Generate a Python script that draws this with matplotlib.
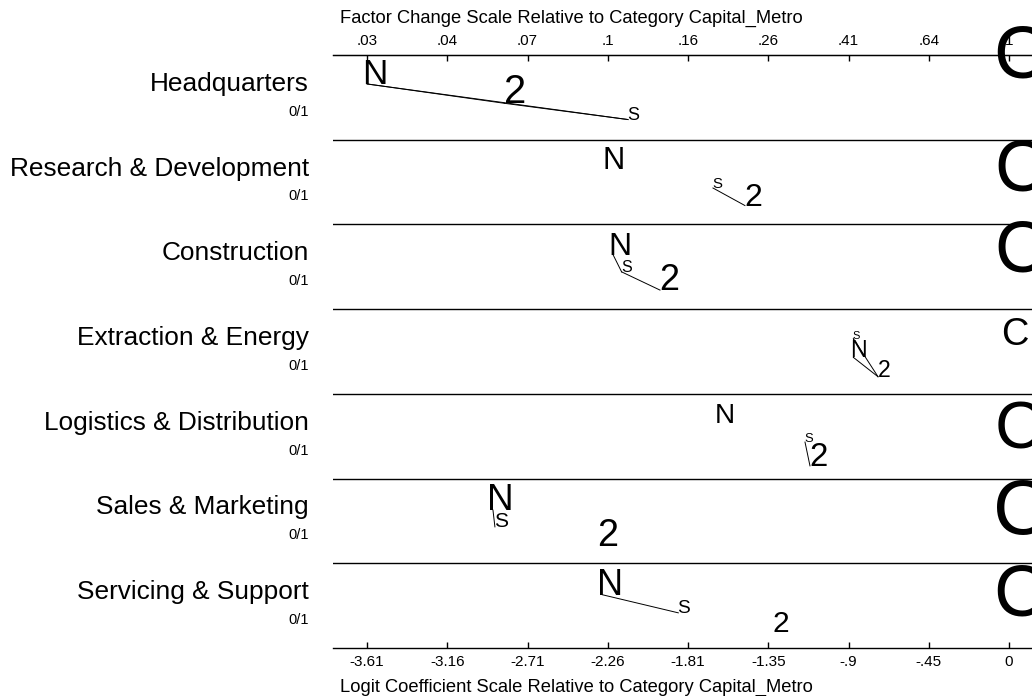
import matplotlib
matplotlib.use("Agg")
import matplotlib.pyplot as plt
import matplotlib.transforms as mtransforms

# rows (outcome comparisons) and their sub label
rows = ['Headquarters', 'Research & Development', 'Construction',
        'Extraction & Energy', 'Logistics & Distribution',
        'Sales & Marketing', 'Servicing & Support']
sub_label = '0/1'

# logit coefficients relative to Capital_Metro (C is the base = 0)
coef_C = [0, 0, 0, 0, 0, 0, 0]
coef_N = [-3.612, -2.26, -2.228, -0.876, -1.632, -2.904, -2.287]
coef_2 = [-2.84, -1.486, -1.964, -0.737, -1.12, -2.313, -1.328]
coef_S = [-2.144, -1.666, -2.18, -0.876, -1.148, -2.893, -1.861]

# letter sizes (discrete change), in px of font size
size_C = [75, 72, 72, 38, 67, 78, 73]
size_N = [35, 31, 32, 23, 28, 37, 36]
size_2 = [40, 32, 36, 23, 33, 38, 30]
size_S = [18, 15, 16, 11, 13, 21, 19]

# vertical stagger of letters inside each row (fraction of row height)
drop_C = [0.27, 0.60, 0.56, 0.42, 0.65, 0.66, 0.62]
drop_N = [0.342, 0.349, 0.358, 0.569, 0.348, 0.372, 0.372]
drop_2 = [0.570, 0.777, 0.775, 0.798, 0.85, 0.80, 0.81]
drop_S = [0.762, 0.570, 0.560, 0.347, 0.569, 0.570, 0.585]

# pairs joined by a line (not significantly different)
links = [[('N', 'S'), ('N', '2'), ('2', 'S')],
         [('S', '2')],
         [('N', 'S'), ('S', '2')],
         [('S', 'N'), ('N', '2'), ('S', '2')],
         [('S', '2')],
         [('N', 'S')],
         [('N', 'S')]]

bottom_ticks = [-3.612, -3.1605, -2.709, -2.258, -1.806, -1.3545, -0.903, -0.4515, 0]
bottom_labels = ['-3.61', '-3.16', '-2.71', '-2.26', '-1.81', '-1.35', '-.9', '-.45', '0']
top_labels = ['.03', '.04', '.07', '.1', '.16', '.26', '.41', '.64', '1']

top_title = 'Factor Change Scale Relative to Category Capital_Metro'
bottom_title = 'Logit Coefficient Scale Relative to Category Capital_Metro'

coefs = {'C': coef_C, 'N': coef_N, '2': coef_2, 'S': coef_S}
sizes = {'C': size_C, 'N': size_N, '2': size_2, 'S': size_S}
drops = {'C': drop_C, 'N': drop_N, '2': drop_2, 'S': drop_S}
shift = {'C': 0.21, 'N': 0.15, '2': 0.02, 'S': 0.04}

plt.rcParams['font.family'] = ['Liberation Sans', 'DejaVu Sans']

W, H = 1032, 696
fig = plt.figure(figsize=(W / 100, H / 100), dpi=100)
left_px, top_px, bot_px = 333, 55, 648
ax = fig.add_axes([left_px / W, 1 - bot_px / H, 1 - left_px / W, (bot_px - top_px) / H])

x0_px, scale = 1009, 177.7
ax.set_xlim((left_px - x0_px) / scale, (W - x0_px) / scale)
ax.set_ylim(len(rows), 0)

for s in ['left', 'right']:
    ax.spines[s].set_visible(False)
for s in ['top', 'bottom']:
    ax.spines[s].set_linewidth(1.0)
for i in range(1, len(rows)):
    ax.axhline(i, color='black', lw=1.0)

ax.set_yticks([])
ax.set_xticks(bottom_ticks)
ax.set_xticklabels(bottom_labels)
ax.tick_params(axis='x', direction='in', length=4, width=1, pad=5, labelsize=11)

axt = ax.twiny()
axt.set_xlim(ax.get_xlim())
axt.set_xticks(bottom_ticks)
axt.set_xticklabels(top_labels)
axt.tick_params(axis='x', direction='in', length=4, width=1, pad=5, labelsize=11)
for s in ['left', 'right', 'bottom']:
    axt.spines[s].set_visible(False)

# row labels on the left
lab_tr = mtransforms.blended_transform_factory(fig.transFigure, ax.transData)
for i, name in enumerate(rows):
    ax.text(309 / W, i + 0.34, name, transform=lab_tr, ha='right', va='center', fontsize=18.9)
    ax.text(309 / W, i + 0.67, sub_label, transform=lab_tr, ha='right', va='center', fontsize=10.5)

for i in range(len(rows)):
    for a, b in links[i]:
        ax.plot([coefs[a][i], coefs[b][i]], [i + drops[a][i], i + drops[b][i]],
                color='black', lw=0.7)
    for letter in ['C', 'N', '2', 'S']:
        fs = sizes[letter][i] * 0.72
        tr = mtransforms.offset_copy(ax.transData, fig=fig, x=-shift[letter] * fs, y=0, units='points')
        ax.text(coefs[letter][i], i + drops[letter][i], letter, transform=tr,
                fontsize=fs, ha='left', va='baseline', clip_on=False)

fig.text(340 / W, 1 - 18 / H, top_title, ha='left', va='center', fontsize=13.2)
fig.text(340 / W, 1 - 687 / H, bottom_title, ha='left', va='center', fontsize=13.2)

fig.savefig('out.png', dpi=100)
